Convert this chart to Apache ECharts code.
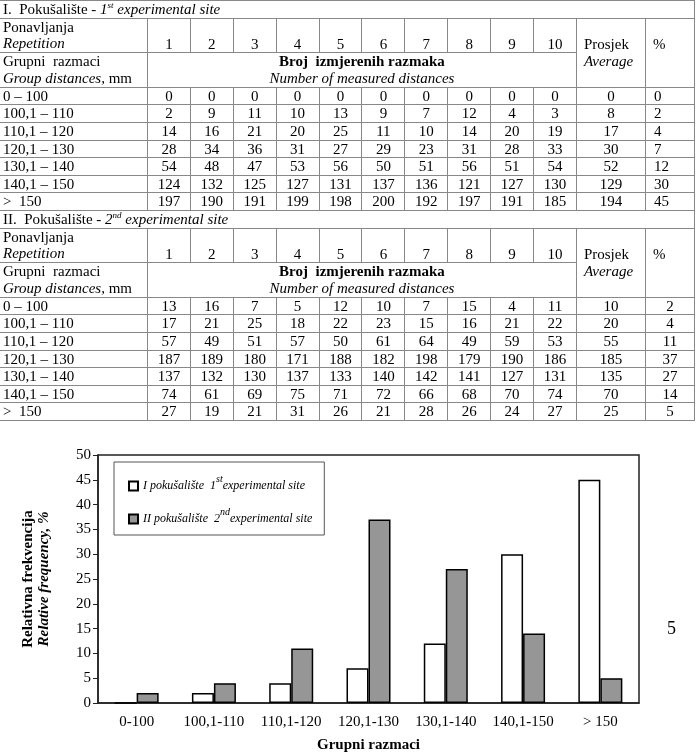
<!DOCTYPE html>
<html>
<head>
<meta charset="utf-8">
<script src="https://cdn.jsdelivr.net/npm/echarts@6/dist/echarts.min.js"></script>
<style>
  html, body { margin: 0; padding: 0; background: #fff; }
  #chart { position: absolute; left: 0; top: 0; width: 696px; height: 756px; }
  #tables { position: absolute; left: -1px; top: 0; z-index: 2; }
  table { border-collapse: collapse; width: 695px; font-family: 'Liberation Serif', serif; font-size: 15px; color: #000; table-layout: fixed; }
  td { border: 1px solid #888; padding: 0 3px; line-height: 16.6px; height: 16.6px; text-align: center; white-space: nowrap; }
  td.l { text-align: left; }
  td.b { vertical-align: bottom; }
  i { font-style: italic; }
  sup { font-size: 9px; line-height: 0; }
</style>
</head>
<body>
<div id="chart"></div>
<div id="tables"></div>
<script>
// table rows (group distances)
const rowLabels = ['0 – 100', '100,1 – 110', '110,1 – 120', '120,1 – 130', '130,1 – 140', '140,1 – 150', '>&nbsp; 150']
const repetitions = [1, 2, 3, 4, 5, 6, 7, 8, 9, 10]

// 1st experimental site
const site1Counts = [
  [0, 0, 0, 0, 0, 0, 0, 0, 0, 0],
  [2, 9, 11, 10, 13, 9, 7, 12, 4, 3],
  [14, 16, 21, 20, 25, 11, 10, 14, 20, 19],
  [28, 34, 36, 31, 27, 29, 23, 31, 28, 33],
  [54, 48, 47, 53, 56, 50, 51, 56, 51, 54],
  [124, 132, 125, 127, 131, 137, 136, 121, 127, 130],
  [197, 190, 191, 199, 198, 200, 192, 197, 191, 185]
]
const site1Avg = [0, 8, 17, 30, 52, 129, 194]
const site1Pct = [0, 2, 4, 7, 12, 30, 45]

// 2nd experimental site
const site2Counts = [
  [13, 16, 7, 5, 12, 10, 7, 15, 4, 11],
  [17, 21, 25, 18, 22, 23, 15, 16, 21, 22],
  [57, 49, 51, 57, 50, 61, 64, 49, 59, 53],
  [187, 189, 180, 171, 188, 182, 198, 179, 190, 186],
  [137, 132, 130, 137, 133, 140, 142, 141, 127, 131],
  [74, 61, 69, 75, 71, 72, 66, 68, 70, 74],
  [27, 19, 21, 31, 26, 21, 28, 26, 24, 27]
]
const site2Avg = [10, 20, 55, 185, 135, 70, 25]
const site2Pct = [2, 4, 11, 37, 27, 14, 5]

// chart
const categories = ['0-100', '100,1-110', '110,1-120', '120,1-130', '130,1-140', '140,1-150', '> 150']
const seriesNames = ['I pokušalište 1st experimental site', 'II pokušalište 2nd experimental site']
const yTicks = [0, 5, 10, 15, 20, 25, 30, 35, 40, 45, 50]

function buildSection (title, counts, avg, pct, pctStyle) {
  let html = '<tr><td class="l" colspan="13">' + title + '</td></tr>'
  html += '<tr><td class="l" style="height:33.6px">Ponavljanja<br><i>Repetition</i></td>'
  repetitions.forEach(r => { html += '<td class="b">' + r + '</td>' })
  html += '<td class="l" rowspan="2" style="padding-left:7px">Prosjek<br><i>Average</i></td>'
  html += '<td class="l" rowspan="2" style="padding-left:7px">%<br>&nbsp;</td></tr>'
  html += '<tr><td class="l" style="height:33.6px">Grupni&nbsp; razmaci<br><i>Group distances,</i> mm</td>'
  html += '<td colspan="10"><b>Broj&nbsp; izmjerenih razmaka</b><br><i>Number of measured distances</i></td></tr>'
  counts.forEach((row, i) => {
    html += '<tr><td class="l">' + rowLabels[i] + '</td>'
    row.forEach(v => { html += '<td>' + v + '</td>' })
    html += '<td>' + avg[i] + '</td><td style="' + pctStyle + '">' + pct[i] + '</td></tr>'
  })
  return html
}

let tbl = '<table><colgroup><col style="width:148px">'
repetitions.forEach(() => { tbl += '<col style="width:42.9px">' })
tbl += '<col style="width:69px"><col style="width:49px"></colgroup>'
tbl += buildSection('I.&nbsp; Pokušalište - <i>1<sup>st</sup> experimental site</i>', site1Counts, site1Avg, site1Pct, 'text-align:left;padding-left:8px')
tbl += buildSection('II.&nbsp; Pokušalište - <i>2<sup>nd</sup> experimental site</i>', site2Counts, site2Avg, site2Pct, '')
tbl += '</table>'
document.getElementById('tables').innerHTML = tbl

const serif = 'Liberation Serif'
const myChart = echarts.init(document.getElementById('chart'))
const option = {
  animation: false,
  grid: {
    left: 98,
    right: 57,
    top: 455,
    bottom: 53,
    show: true,
    borderColor: '#222',
    borderWidth: 1.5
  },
  legend: {
    orient: 'vertical',
    left: 114,
    top: 462,
    padding: [12, 12, 10, 14],
    itemGap: 15,
    itemWidth: 9,
    itemHeight: 9,
    icon: 'rect',
    borderColor: '#555',
    borderWidth: 1,
    data: seriesNames,
    formatter: function (name) {
      const parts = name.split(' ')
      const sup = parts[2].slice(1)
      return '{t|' + parts[0] + ' ' + parts[1] + '  ' + parts[2][0] + '}{s|' + sup + '}{t|' + parts.slice(3).join(' ') + '}'
    },
    textStyle: {
      rich: {
        t: { fontFamily: serif, fontStyle: 'italic', fontSize: 12, color: '#000' },
        s: { fontFamily: serif, fontStyle: 'italic', fontSize: 10, color: '#000', padding: [0, 0, 14, 0] }
      }
    }
  },
  xAxis: {
    type: 'category',
    data: categories,
    axisLine: { lineStyle: { color: '#222', width: 1.5 } },
    axisTick: { length: 5, lineStyle: { color: '#222' } },
    axisLabel: { interval: 0, fontFamily: serif, fontSize: 15, color: '#000', margin: 12 },
    name: 'Grupni razmaci',
    nameLocation: 'middle',
    nameGap: 35,
    nameTextStyle: { fontFamily: serif, fontSize: 15, fontWeight: 'bold', color: '#000' }
  },
  yAxis: {
    type: 'value',
    min: yTicks[0],
    max: yTicks[yTicks.length - 1],
    interval: yTicks[1] - yTicks[0],
    splitLine: { show: false },
    axisLine: { show: true, lineStyle: { color: '#222', width: 1.5 } },
    axisTick: { show: true, length: 5, lineStyle: { color: '#222' } },
    axisLabel: { fontFamily: serif, fontSize: 15, color: '#000', margin: 7 },
    name: '{a|Relativna frekvencija}\n{b|Relative frequency, %}',
    nameLocation: 'middle',
    nameGap: 46,
    nameTextStyle: {
      rich: {
        a: { fontFamily: serif, fontSize: 15, fontWeight: 'bold', color: '#000', lineHeight: 16 },
        b: { fontFamily: serif, fontSize: 15, fontWeight: 'bold', fontStyle: 'italic', color: '#000', lineHeight: 16 }
      }
    }
  },
  graphic: [{
    type: 'text',
    left: 667,
    top: 620,
    style: { text: '5', fontFamily: serif, fontSize: 18, fill: '#000' }
  }],
  series: [
    {
      name: seriesNames[0],
      type: 'bar',
      data: site1Pct,
      barWidth: 22,
      barGap: '0%',
      itemStyle: { color: '#fff', borderColor: '#000', borderWidth: 1.5 }
    },
    {
      name: seriesNames[1],
      type: 'bar',
      data: site2Pct,
      barWidth: 22,
      barGap: '0%',
      itemStyle: { color: '#969696', borderColor: '#000', borderWidth: 1.5 }
    }
  ]
}
myChart.setOption(option)
</script>
</body>
</html>
